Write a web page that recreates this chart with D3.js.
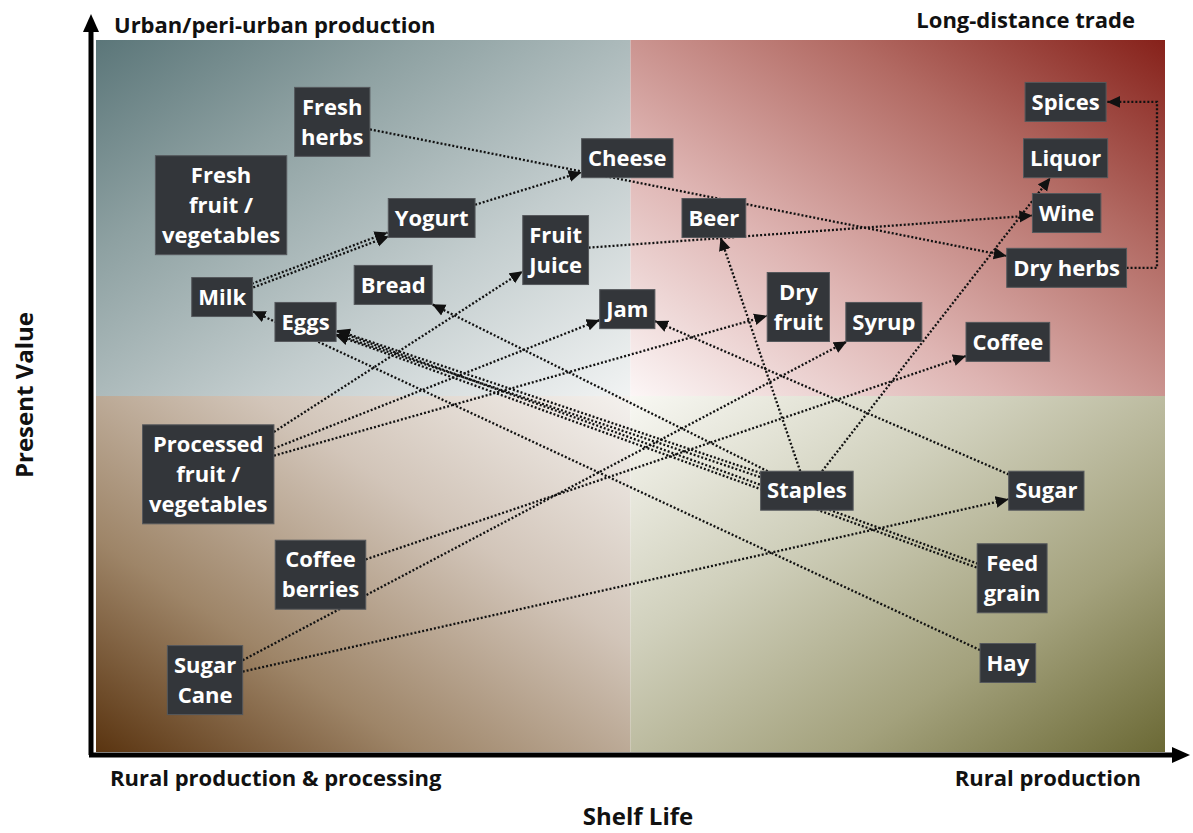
<!DOCTYPE html>
<meta charset="utf-8">
<script src="https://d3js.org/d3.v7.min.js"></script>
<style>
body { margin: 0; background: #fff; }
svg { font-family: "Open Sans", "Noto Sans", sans-serif; }
.corner { font-size: 22px; font-weight: 700; fill: #111; }
.title { font-size: 24px; font-weight: 700; fill: #111; }
.node rect { fill: #33363a; stroke: #55585c; stroke-width: 1px; }
.node text { fill: #fff; font-size: 22px; font-weight: 700; text-anchor: middle; }
.link { fill: none; stroke: #111; stroke-width: 2.3px; stroke-dasharray: 2 2; }
</style>
<body>
<script>

// products: shelf life (x) and present value (y), both 0-100
var names = ["Fresh\nherbs", "Fresh\nfruit /\nvegetables", "Milk", "Yogurt", "Bread", "Eggs",
    "Cheese", "Fruit\nJuice", "Jam", "Beer", "Dry\nfruit", "Syrup", "Coffee",
    "Spices", "Liquor", "Wine", "Dry herbs",
    "Processed\nfruit /\nvegetables", "Coffee\nberries", "Sugar\nCane",
    "Staples", "Sugar", "Feed\ngrain", "Hay"];
var shelfLife    = [22.1, 11.7, 11.8, 31.4, 27.8, 19.6, 49.7, 43.0, 49.7, 57.8, 65.7, 73.7, 85.3,
    90.7, 90.7, 90.8, 90.8, 10.5, 21.0, 10.2, 66.5, 88.9, 85.7, 85.3];
var presentValue = [88.5, 76.8, 63.9, 75.0, 65.6, 60.4, 83.4, 70.5, 62.2, 75.0, 62.5, 60.4, 57.6,
    91.3, 83.4, 75.7, 68.0, 39.0, 24.9, 10.1, 36.7, 36.7, 24.4, 12.5];

// flows between products (index into names), number of strands
var linkFrom  = [0, 3, 2, 23, 20, 22, 20, 20, 20, 17, 17, 17, 7, 19, 19, 18, 21, 16];
var linkTo    = [16, 6, 3, 2, 5, 5, 4, 9, 14, 7, 8, 10, 15, 11, 21, 12, 8, 13];
var linkCount = [1, 1, 2, 1, 2, 2, 1, 1, 1, 1, 1, 1, 1, 1, 1, 1, 1, 1];

var cornerLabels = ["Urban/peri-urban production", "Long-distance trade",
    "Rural production & processing", "Rural production"];

var width = 1193, height = 833;
var x = d3.scaleLinear().domain([0, 100]).range([96, 1165]);
var y = d3.scaleLinear().domain([0, 100]).range([752, 40]);
var midX = x(50), midY = y(50);

var svg = d3.select("body").append("svg")
    .attr("width", width)
    .attr("height", height);

var defs = svg.append("defs");

// quadrant gradients: light at the centre, dark towards the outer corner
var quads = [
    { id: "gTL", x0: x(0), y0: y(100), x1: midX, y1: midY, from: [1, 1], to: [0, 0],
      stops: ["#f1f3f3", "#c3cdce", "#8ea1a2", "#5b7679"] },
    { id: "gTR", x0: midX, y0: y(100), x1: x(100), y1: midY, from: [0, 1], to: [1, 0],
      stops: ["#fcf6f6", "#deb4b2", "#b26a63", "#86211a"] },
    { id: "gBL", x0: x(0), y0: midY, x1: midX, y1: y(0), from: [1, 0], to: [0, 1],
      stops: ["#f4f1ee", "#d2c5b9", "#9e8568", "#5a3410"] },
    { id: "gBR", x0: midX, y0: midY, x1: x(100), y1: y(0), from: [0, 0], to: [1, 1],
      stops: ["#f8f8f3", "#d0d0bc", "#a3a17c", "#6b6935"] }
];

quads.forEach(function(q) {
    var g = defs.append("linearGradient").attr("id", q.id)
        .attr("x1", q.from[0]).attr("y1", q.from[1])
        .attr("x2", q.to[0]).attr("y2", q.to[1]);
    q.stops.forEach(function(c, i) {
        g.append("stop").attr("offset", [0, 0.35, 0.7, 1][i]).attr("stop-color", c);
    });
    svg.append("rect")
        .attr("x", q.x0).attr("y", q.y0)
        .attr("width", q.x1 - q.x0).attr("height", q.y1 - q.y0)
        .attr("fill", "url(#" + q.id + ")");
});

defs.append("marker")
    .attr("id", "arrow")
    .attr("markerUnits", "userSpaceOnUse")
    .attr("viewBox", "0 0 12 12")
    .attr("refX", 12).attr("refY", 6)
    .attr("markerWidth", 13).attr("markerHeight", 13)
    .attr("orient", "auto")
  .append("path")
    .attr("d", "M0,0.5L12,6L0,11.5Z")
    .attr("fill", "#111");

defs.append("marker")
    .attr("id", "axisArrow")
    .attr("markerUnits", "userSpaceOnUse")
    .attr("viewBox", "0 0 20 20")
    .attr("refX", 2).attr("refY", 10)
    .attr("markerWidth", 20).attr("markerHeight", 20)
    .attr("orient", "auto")
  .append("path")
    .attr("d", "M0,2L18,10L0,18Z")
    .attr("fill", "#000");

// axes
svg.append("line")
    .attr("x1", x(0) - 5).attr("y1", y(0) + 3)
    .attr("x2", x(0) - 5).attr("y2", 30)
    .attr("stroke", "#000").attr("stroke-width", 5)
    .attr("marker-end", "url(#axisArrow)");
svg.append("line")
    .attr("x1", x(0) - 7).attr("y1", y(0) + 3)
    .attr("x2", 1174).attr("y2", y(0) + 3)
    .attr("stroke", "#000").attr("stroke-width", 5)
    .attr("marker-end", "url(#axisArrow)");

svg.append("text").attr("class", "corner").attr("x", 114).attr("y", 33).text(cornerLabels[0]);
svg.append("text").attr("class", "corner").attr("x", 1135).attr("y", 28)
    .attr("text-anchor", "end").text(cornerLabels[1]);
svg.append("text").attr("class", "corner").attr("x", 110).attr("y", 786).text(cornerLabels[2]);
svg.append("text").attr("class", "corner").attr("x", 1141).attr("y", 786)
    .attr("text-anchor", "end").text(cornerLabels[3]);

svg.append("text").attr("class", "title")
    .attr("x", 638).attr("y", 825).attr("text-anchor", "middle").text("Shelf Life");
svg.append("text").attr("class", "title")
    .attr("transform", "translate(33," + 395 + ") rotate(-90)")
    .attr("text-anchor", "middle").text("Present Value");

// nodes: measure text first so links can stop at the box edges
var nodes = names.map(function(n, i) {
    return { name: n, lines: n.split("\n"), cx: x(shelfLife[i]), cy: y(presentValue[i]) };
});

var linkLayer = svg.append("g");
var nodeLayer = svg.append("g");

var node = nodeLayer.selectAll(".node")
    .data(nodes)
    .enter().append("g")
    .attr("class", "node");

node.append("rect");
node.each(function(d) {
    var g = d3.select(this);
    var n = d.lines.length;
    var wmax = 0;
    d.lines.forEach(function(l, k) {
        var t = g.append("text")
            .attr("x", d.cx)
            .attr("y", d.cy - (n - 1) * 15 + k * 30)
            .attr("dy", "0.35em")
            .text(l);
        wmax = Math.max(wmax, t.node().getComputedTextLength());
    });
    d.hw = wmax / 2 + 6.5;
    d.hh = n * 15 + 4.5;
    g.select("rect")
        .attr("x", d.cx - d.hw).attr("y", d.cy - d.hh)
        .attr("width", d.hw * 2).attr("height", d.hh * 2);
});

function edgePoint(d, dx, dy) {
    var tx = dx === 0 ? Infinity : d.hw / Math.abs(dx);
    var ty = dy === 0 ? Infinity : d.hh / Math.abs(dy);
    var t = Math.min(tx, ty);
    return [d.cx + dx * t, d.cy + dy * t];
}

linkFrom.forEach(function(s, i) {
    var a = nodes[s], b = nodes[linkTo[i]];
    if (names[s] === "Dry herbs" && names[linkTo[i]] === "Spices") {
        var ex = x(100) - 8;
        linkLayer.append("path")
            .attr("class", "link")
            .attr("d", "M" + (a.cx + a.hw) + "," + a.cy + "H" + ex + "V" + b.cy + "H" + (b.cx + b.hw + 1))
            .attr("marker-end", "url(#arrow)");
        return;
    }
    var dx = b.cx - a.cx, dy = b.cy - a.cy;
    var len = Math.sqrt(dx * dx + dy * dy);
    var nx = -dy / len, ny = dx / len;
    var p0 = edgePoint(a, dx, dy);
    var p1 = edgePoint(b, -dx, -dy);
    var n = linkCount[i];
    for (var k = 0; k < n; k++) {
        var off = (k - (n - 1) / 2) * 4;
        linkLayer.append("line")
            .attr("class", "link")
            .attr("x1", p0[0] + nx * off).attr("y1", p0[1] + ny * off)
            .attr("x2", p1[0] + nx * off).attr("y2", p1[1] + ny * off)
            .attr("marker-end", "url(#arrow)");
    }
});

</script>
</body>
